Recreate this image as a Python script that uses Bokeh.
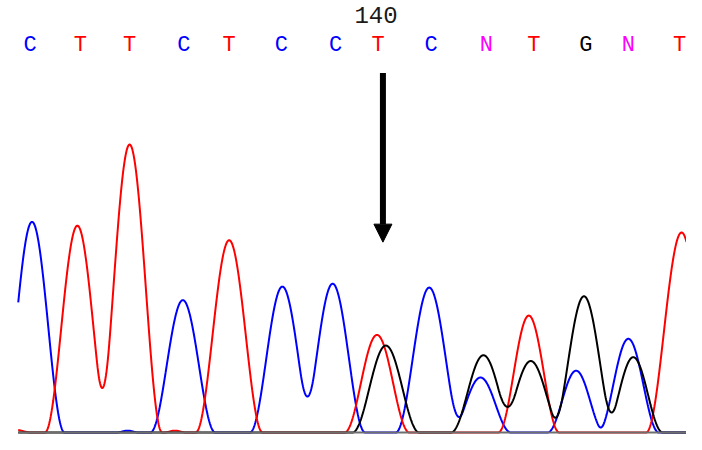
import numpy as np
from bokeh.plotting import figure
from bokeh.models import Range1d, Arrow, NormalHead, ColumnDataSource
from bokeh.core.properties import value
from bokeh.embed import file_html
from bokeh.resources import INLINE

# ---- data ----
bases = ["C", "T", "T", "C", "T", "C", "C", "T", "C", "N", "T", "G", "N", "T"]
base_x = [30, 81, 131, 186, 232, 285, 340, 383, 437, 493, 541, 594, 637, 689]
base_colors = {"C": "#0000FF", "T": "#FF0000", "G": "#000000", "N": "#FF00FF"}
position_label = "140"
position_x = 381

# C channel (blue)
c_pos = [32, 129, 185, 286, 337, 435, 487, 584, 637]
c_height = [218, 2, 137, 151, 154, 150, 57, 64, 97]
c_width = [33, 12, 33, 33, 33, 34, 31, 29, 31]

# T channel (red)
t_pos = [14, 78, 131, 177, 232, 382, 536, 691]
t_height = [3, 214, 298, 2, 199, 101, 121, 207]
t_width = [18, 33, 33, 12, 34, 33, 31, 36]

# G channel (black)
g_pos = [391, 490, 538, 592, 642]
g_height = [90, 80, 74, 141, 78]
g_width = [34, 33, 33, 33, 30]

arrow_x = 388
arrow_top = 372
arrow_tip = 197

trace_start, trace_end = 18, 696


def trace(xs, pos, height, width):
    y = np.zeros_like(xs)
    for c, h, w in zip(pos, height, width):
        d = np.abs(xs - c)
        m = d < w
        y[m] += h * np.cos(np.pi * (xs[m] - c) / (2 * w)) ** 2
    return y


xs = np.arange(trace_start, trace_end + 0.25, 0.5)

p = figure(width=686, height=434, output_backend="svg", toolbar_location=None,
           x_range=Range1d(0, 696), y_range=Range1d(-2, 447),
           min_border=0, x_axis_location=None, y_axis_location=None)
p.grid.visible = False
p.outline_line_color = None
p.background_fill_color = "white"
p.border_fill_color = "white"

p.line(xs, trace(xs, c_pos, c_height, c_width), line_color="#0000FF", line_width=2)
p.line(xs, trace(xs, t_pos, t_height, t_width), line_color="#FF0000", line_width=2)
p.line(xs, trace(xs, g_pos, g_height, g_width), line_color="#000000", line_width=2)

# baseline
p.line([trace_start, trace_end], [0, 0], line_color="#6E6E6E", line_width=2)

# base calls
src = ColumnDataSource(dict(x=base_x, y=[400.5] * len(bases), t=bases,
                            c=[base_colors[b] for b in bases]))
p.text(x="x", y="y", text="t", text_color="c", source=src,
       text_font=value("Liberation Mono"), text_font_size="22px",
       text_align="center", text_baseline="middle")

p.text(x=[position_x], y=[432], text=[position_label], text_color="#1A1A1A",
       text_font=value("Liberation Mono"), text_font_size="24px",
       text_align="center", text_baseline="middle")

p.add_layout(Arrow(end=NormalHead(size=18, fill_color="black", line_color="black"),
                   x_start=arrow_x, y_start=arrow_top, x_end=arrow_x, y_end=arrow_tip,
                   line_width=6, line_color="black"))

open("out.html", "w").write(file_html(p, INLINE))
